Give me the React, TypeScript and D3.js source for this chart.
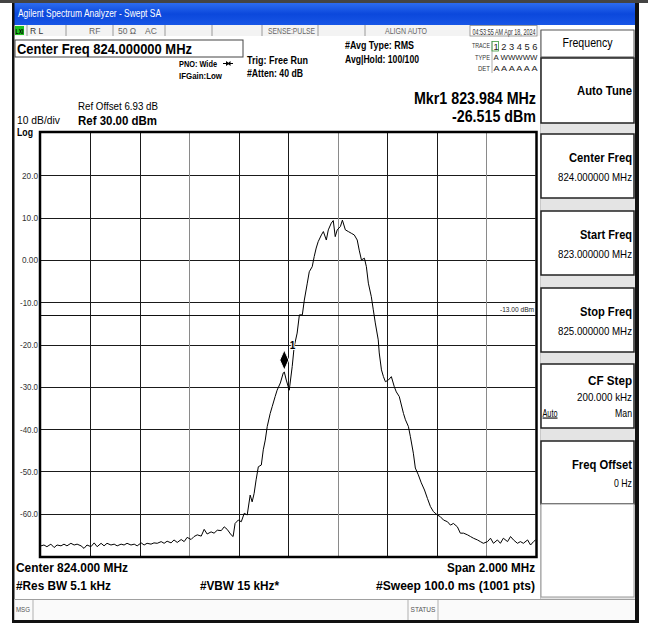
import React from "react";
import * as d3 from "d3";

// ---------------- data ----------------
const startFreqMHz = 823.0;
const stopFreqMHz = 825.0;
const refLevelDbm = 30;
const dbPerDiv = 10;
const numDivs = 10;
const yTickLabels = ["20.0", "10.0", "0.00", "-10.0", "-20.0", "-30.0", "-40.0", "-50.0", "-60.0"];
const yTickValues = [20, 10, 0, -10, -20, -30, -40, -50, -60];
const displayLineDbm = -13;
const markerFreqMHz = 823.984;
const markerLevelDbm = -26.515;

const traceFreqMHz = [
  823.000, 823.012, 823.024, 823.040, 823.053, 823.065, 823.081, 823.093, 823.105, 823.121,
  823.134, 823.146, 823.162, 823.174, 823.186, 823.202, 823.215, 823.227, 823.243, 823.255,
  823.267, 823.283, 823.296, 823.308, 823.324, 823.336, 823.348, 823.364, 823.377, 823.389,
  823.405, 823.417, 823.429, 823.445, 823.457, 823.470, 823.486, 823.498, 823.510, 823.526,
  823.538, 823.551, 823.567, 823.579, 823.591, 823.607, 823.619, 823.632, 823.648, 823.660,
  823.672, 823.688, 823.700, 823.713, 823.729, 823.741, 823.753, 823.769, 823.777, 823.785,
  823.798, 823.810, 823.822, 823.834, 823.846, 823.854, 823.862, 823.870, 823.879, 823.891,
  823.899, 823.907, 823.915, 823.927, 823.935, 823.947, 823.955, 823.968, 823.980, 823.984, 823.992,
  824.004, 824.016, 824.024, 824.036, 824.045, 824.057, 824.065, 824.077, 824.085, 824.097,
  824.105, 824.113, 824.121, 824.134, 824.142, 824.154, 824.162, 824.174, 824.182, 824.190,
  824.198, 824.211, 824.219, 824.231, 824.243, 824.255, 824.267, 824.279, 824.287, 824.296,
  824.308, 824.316, 824.324, 824.336, 824.344, 824.352, 824.364, 824.368, 824.377, 824.385,
  824.393, 824.405, 824.417, 824.429, 824.437, 824.449, 824.466, 824.474, 824.486, 824.494,
  824.506, 824.514, 824.526, 824.538, 824.551, 824.563, 824.575, 824.587, 824.603, 824.615,
  824.628, 824.644, 824.656, 824.668, 824.684, 824.696, 824.709, 824.725, 824.737, 824.749,
  824.765, 824.777, 824.789, 824.806, 824.818, 824.830, 824.846, 824.858, 824.870, 824.887,
  824.899, 824.911, 824.927, 824.939, 824.951, 824.968, 824.980, 824.992, 825.000,
];

const traceLevelDbm = [
  -67.6, -67.4, -67.8, -67.2, -68.0, -67.4, -67.6, -67.2, -67.6, -67.0,
  -67.4, -67.2, -67.6, -68.2, -67.4, -67.8, -66.9, -67.8, -67.0, -67.6,
  -67.0, -67.4, -67.2, -67.6, -67.2, -67.4, -67.0, -67.4, -67.2, -67.6,
  -66.9, -67.4, -67.0, -67.2, -66.9, -67.0, -66.6, -67.0, -66.5, -66.9,
  -66.2, -66.8, -66.1, -66.6, -65.6, -66.1, -65.4, -65.0, -65.3, -63.7,
  -64.8, -64.3, -64.6, -63.9, -64.0, -63.1, -63.7, -65.0, -65.4, -62.3,
  -61.5, -61.9, -59.9, -60.3, -55.6, -57.2, -55.2, -52.0, -48.9, -48.5,
  -44.9, -42.6, -39.4, -36.3, -34.7, -32.3, -30.8, -29.1, -26.7, -26.5, -28.4,
  -30.8, -25.2, -20.5, -17.3, -13.0, -13.0, -9.5, -5.5, -2.8, -1.6,
  0.8, 2.8, 4.3, 5.9, 6.7, 4.7, 7.1, 8.7, 9.3, 5.5,
  7.1, 7.9, 9.4, 7.1, 6.7, 6.3, 5.9, 4.7, 2.3, 0.0,
  0.4, -1.6, -5.5, -8.7, -11.8, -14.9, -18.9, -22.0, -26.0, -27.6,
  -28.8, -28.4, -27.6, -30.0, -31.2, -32.3, -36.3, -37.8, -39.4, -41.8,
  -45.7, -49.2, -50.8, -52.7, -54.4, -56.4, -58.3, -59.5, -60.3, -60.7,
  -61.5, -61.9, -62.7, -62.3, -63.1, -64.6, -64.6, -65.0, -65.4, -65.8,
  -66.2, -66.6, -67.0, -66.6, -65.8, -67.0, -66.2, -67.0, -65.8, -66.6,
  -65.4, -66.2, -67.0, -66.6, -67.0, -66.2, -67.4, -66.6, -66.2,
];

const softkeys = [
  { title: "Auto Tune", value: "", top: 58, bottom: 123 },
  { title: "Center Freq", value: "824.000000 MHz", top: 134, bottom: 198 },
  { title: "Start Freq", value: "823.000000 MHz", top: 211, bottom: 275 },
  { title: "Stop Freq", value: "825.000000 MHz", top: 288, bottom: 352 },
  { title: "CF Step", value: "200.000 kHz", top: 364, bottom: 428 },
  { title: "Freq Offset", value: "0 Hz", top: 441, bottom: 504 },
];

// ---------------- helpers ----------------
const FONT = "'Liberation Sans', Arial, Helvetica, sans-serif";

type TP = {
  x: number; y: number; s: number; w?: number; b?: boolean; a?: "start" | "middle" | "end";
  fill?: string; children: React.ReactNode; deco?: string;
};
const T = ({ x, y, s, w, b, a, fill, children, deco }: TP) => (
  <text
    x={x}
    y={y}
    fontSize={s}
    fontWeight={b ? "bold" : "normal"}
    textAnchor={a || "start"}
    fill={fill || "#000"}
    fontFamily={FONT}
    textDecoration={deco}
    {...(w ? { textLength: w, lengthAdjust: "spacingAndGlyphs" } : {})}
  >
    {children}
  </text>
);

export default function App() {
  const plotL = 41, plotR = 535.5, plotT = 133, plotB = 556;
  const x = d3.scaleLinear().domain([startFreqMHz, stopFreqMHz]).range([plotL, plotR]);
  const y = d3.scaleLinear().domain([refLevelDbm - dbPerDiv * numDivs, refLevelDbm]).range([plotB, plotT]);

  const pts = traceFreqMHz.map((f, i) => ({ f, v: traceLevelDbm[i] }));
  const line = d3.line<{ f: number; v: number }>().x((d) => x(d.f)).y((d) => y(d.v));

  const vGrid = d3.range(1, numDivs).map((k) => startFreqMHz + (k * (stopFreqMHz - startFreqMHz)) / numDivs);

  const mx = x(markerFreqMHz);
  const my = y(markerLevelDbm);

  const statusSeps = [27, 66, 113, 165, 212, 262, 318, 365];

  return (
    <svg
      width={648}
      height={623}
      viewBox="0 0 648 623"
      style={{ position: "absolute", left: 0, top: 0, background: "#fff" }}
    >
      <defs>
        <linearGradient id="tb" x1="0" y1="0" x2="0" y2="1">
          <stop offset="0" stopColor="#2d6cf0" />
          <stop offset="0.5" stopColor="#0b48dc" />
          <stop offset="1" stopColor="#1856e6" />
        </linearGradient>
      </defs>
      <rect x={0} y={0} width={648} height={623} fill="#fff" />
      <rect x={0} y={0} width={648} height={3} fill="#444" />

      {/* title bar */}
      <rect x={14} y={3} width={623} height={22} fill="url(#tb)" />
      <T x={18} y={17} s={11} w={143} fill="#fff">Agilent Spectrum Analyzer - Swept SA</T>

      {/* status row */}
      <rect x={14} y={25} width={526} height={11} fill="#f3f3f3" />
      <rect x={15} y={26} width={9} height={9} fill="#1fc21f" />
      <T x={15.5} y={33.5} s={6.5} b w={8}>LXI</T>
      {statusSeps.map((sx) => (
        <line key={sx} x1={sx} x2={sx} y1={25} y2={36} stroke="#9a9a9a" strokeWidth={1} />
      ))}
      <T x={30} y={34} s={8.5} fill="#333">R L</T>
      <T x={89} y={34} s={8.5} fill="#666">RF</T>
      <T x={118} y={34} s={8.5} fill="#666">50 Ω</T>
      <T x={145} y={34} s={8.5} fill="#666">AC</T>
      <T x={268} y={34} s={8.5} w={47} fill="#666">SENSE:PULSE</T>
      <T x={385} y={34} s={8.5} w={42} fill="#666">ALIGN AUTO</T>
      <rect x={470} y={25.5} width={67} height={10.5} fill="#fff" stroke="#888" strokeWidth={0.8} />
      <T x={472.5} y={34.5} s={9.5} w={63} fill="#333">04:53:55 AM Apr 18, 2024</T>

      {/* left/right/bottom frame */}
      <rect x={12} y={3} width={2.5} height={620} fill="#111" />
      <rect x={635} y={3} width={4} height={620} fill="#111" />
      <rect x={12} y={620} width={627} height={3} fill="#111" />

      {/* softkey panel */}
      <rect x={540} y={30} width={95} height={570} fill="#e4e4e4" />
      <line x1={540.5} x2={540.5} y1={30} y2={600} stroke="#c8c8c8" />
      <rect x={541} y={30} width={93} height={27} fill="#fff" stroke="#555" strokeWidth={1} />
      <T x={587.5} y={47} s={12} a="middle" w={50}>Frequency</T>
      {softkeys.map((k) => (
        <g key={k.title}>
          <rect x={541} y={k.top} width={93} height={k.bottom - k.top} fill="#fff" stroke="#222" strokeWidth={1.5} />
        </g>
      ))}
      <rect x={541} y={504} width={93} height={93} fill="#fff" stroke="#999" strokeWidth={1} />
      <T x={632} y={95} s={13} b a="end" w={55}>Auto Tune</T>
      <T x={632} y={161.5} s={13} b a="end" w={63}>Center Freq</T>
      <T x={632} y={181} s={11} a="end" w={74}>824.000000 MHz</T>
      <T x={632} y={238.5} s={13} b a="end" w={52}>Start Freq</T>
      <T x={632} y={258} s={11} a="end" w={74}>823.000000 MHz</T>
      <T x={632} y={315.5} s={13} b a="end" w={52}>Stop Freq</T>
      <T x={632} y={335} s={11} a="end" w={74}>825.000000 MHz</T>
      <T x={632} y={385} s={13} b a="end" w={44}>CF Step</T>
      <T x={632} y={401} s={11} a="end" w={55}>200.000 kHz</T>
      <T x={542.5} y={416.5} s={11} w={15} deco="underline">Auto</T>
      <T x={632} y={416.5} s={11} a="end" w={17}>Man</T>
      <T x={632} y={468.5} s={13} b a="end" w={60}>Freq Offset</T>
      <T x={632} y={487} s={11} a="end" w={18}>0 Hz</T>

      {/* header annotations */}
      <rect x={15} y={40} width={228} height={17} fill="#fff" stroke="#444" strokeWidth={1} />
      <T x={17} y={54} s={14} b w={175}>Center Freq 824.000000 MHz</T>
      <T x={179} y={67} s={9.5} b w={38}>PNO: Wide</T>
      <line x1={223} x2={233} y1={63.5} y2={63.5} stroke="#000" strokeWidth={1} />
      <path d="M226,61 L229.5,63.5 L226,66 Z M230.5,61 L227.5,63.5 L230.5,66 Z" fill="#000" />
      <T x={179} y={79} s={9.5} b w={43}>IFGain:Low</T>
      <T x={247} y={64} s={10.5} b w={61}>Trig: Free Run</T>
      <T x={247} y={77} s={10.5} b w={56}>#Atten: 40 dB</T>
      <T x={345} y={49} s={10.5} b w={69}>#Avg Type: RMS</T>
      <T x={345} y={63} s={10.5} b w={74}>Avg|Hold: 100/100</T>
      <T x={490} y={48} s={6.5} a="end" w={18} fill="#333">TRACE</T>
      <T x={490} y={60} s={6.5} a="end" w={15} fill="#333">TYPE</T>
      <T x={490} y={71} s={6.5} a="end" w={12} fill="#333">DET</T>
      <line x1={492} x2={492} y1={41} y2={73} stroke="#999" strokeWidth={0.8} />
      <rect x={492} y={41.5} width={6.5} height={9.5} fill="none" stroke="#3c9a3c" strokeWidth={0.8} />
      <T x={493.5} y={49.5} s={9} w={44} fill="#222">1 2 3 4 5 6</T>
      <T x={493.5} y={60} s={7.5} w={44} fill="#222">A WWWWW</T>
      <T x={493.5} y={71} s={7.5} w={44} fill="#222">A A A A A A</T>
      <T x={536} y={104} s={16} b a="end" w={122}>Mkr1 823.984 MHz</T>
      <T x={536} y={122} s={16} b a="end" w={84}>-26.515 dBm</T>
      <T x={78} y={110} s={10.5} w={80}>Ref Offset 6.93 dB</T>
      <T x={17} y={124} s={10.5} w={43}>10 dB/div</T>
      <T x={78} y={125} s={13} b w={79}>Ref 30.00 dBm</T>
      <T x={17} y={136} s={11} b w={16}>Log</T>

      {/* plot grid */}
      <rect x={plotL} y={plotT} width={plotR - plotL} height={plotB - plotT} fill="#fff" />
      {yTickValues.map((v) => (
        <line key={"h" + v} x1={plotL} x2={plotR} y1={Math.round(y(v)) + 0.5} y2={Math.round(y(v)) + 0.5} stroke="#1a1a1a" strokeWidth={1} />
      ))}
      {vGrid.map((f, k) => (
        <line
          key={"v" + k}
          x1={Math.round(x(f)) + 0.5}
          x2={Math.round(x(f)) + 0.5}
          y1={plotT}
          y2={plotB}
          stroke={(k + 1) % 3 === 0 ? "#8a8a8a" : "#1a1a1a"}
          strokeWidth={1}
        />
      ))}
      <line x1={plotL} x2={plotR} y1={Math.round(y(displayLineDbm)) + 0.5} y2={Math.round(y(displayLineDbm)) + 0.5} stroke="#111" strokeWidth={1} />
      <T x={534} y={y(displayLineDbm) - 2.5} s={7} a="end" w={34} fill="#222">-13.00 dBm</T>
      {yTickValues.map((v, i) => (
        <T key={"yl" + v} x={38} y={y(v) + 3.5} s={9} a="end" w={yTickLabels[i].startsWith("-") ? 18 : 16} fill="#333">
          {yTickLabels[i]}
        </T>
      ))}

      {/* trace */}
      <path d={line(pts) || ""} fill="none" stroke="#000" strokeWidth={1} strokeLinejoin="miter" />

      {/* marker */}
      <path
        d={`M${mx},${my - 2} L${mx + 4.5},${my - 12} L${mx},${my - 22} L${mx - 4.5},${my - 12} Z`}
        fill="#000"
        stroke="#fff"
        strokeWidth={1}
      />
      <text
        x={mx + 5.5}
        y={my - 23}
        fontSize={10}
        fontWeight="bold"
        fontFamily={FONT}
        fill="#000"
        stroke="#fff"
        strokeWidth={2}
        strokeLinejoin="round"
        style={{ paintOrder: "stroke" }}
      >
        1
      </text>

      {/* plot frame */}
      <rect x={plotL - 1} y={plotT - 1} width={plotR - plotL + 2} height={plotB - plotT + 2} fill="none" stroke="#000" strokeWidth={2.5} />

      {/* bottom annotations */}
      <T x={16} y={572} s={12.5} b w={112}>Center 824.000 MHz</T>
      <T x={535} y={572} s={12.5} b a="end" w={88}>Span 2.000 MHz</T>
      <T x={16} y={590} s={12.5} b w={95}>#Res BW 5.1 kHz</T>
      <T x={200} y={590} s={12.5} b w={79}>#VBW 15 kHz*</T>
      <T x={535} y={590} s={12.5} b a="end" w={159}>#Sweep  100.0 ms (1001 pts)</T>

      {/* message row */}
      <rect x={14.5} y={599} width={620.5} height={21} fill="#fafafa" />
      <line x1={14.5} x2={635} y1={599.5} y2={599.5} stroke="#a0a0a0" />
      <line x1={33} x2={33} y1={600} y2={620} stroke="#b0b0b0" />
      <line x1={408} x2={408} y1={600} y2={620} stroke="#b0b0b0" />
      <line x1={438} x2={438} y1={600} y2={620} stroke="#b0b0b0" />
      <T x={16} y={612} s={6.5} w={14} fill="#555">MSG</T>
      <T x={410.5} y={612} s={6.5} w={25} fill="#555">STATUS</T>
    </svg>
  );
}
